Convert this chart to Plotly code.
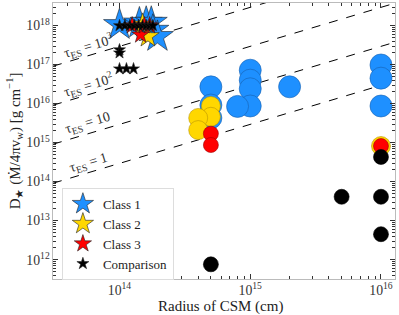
import numpy as np
import plotly.graph_objects as go

# ---------------- data ----------------
# Stars (class members at small radii)
c1_star_R = [1.0e14, 1.42e14, 1.6e14, 1.75e14, 1.8e14, 1.95e14]
c1_star_D = [1.05e18, 1.15e18, 1.2e18, 1.2e18, 7.5e17, 5.2e17]
c2_star_R = [1.5e14, 1.65e14]
c2_star_D = [1.05e18, 5.3e17]
c3_star_R = [1.25e14, 1.45e14, 1.55e14, 1.7e14]
c3_star_D = [1.0e18, 5.8e17, 1.0e18, 1.0e18]
cmp_star_R = [1.0e14, 1.1e14, 1.2e14, 1.3e14, 1.4e14, 1.5e14, 1.6e14, 1.7e14, 1.8e14,
              1.0e14, 1.0e14, 1.0e14, 1.13e14, 1.28e14]
cmp_star_D = [1.0e18, 1.0e18, 1.0e18, 1.0e18, 1.0e18, 1.0e18, 1.0e18, 1.0e18, 1.0e18,
              2.4e17, 2.0e17, 7.8e16, 7.8e16, 7.8e16]

# Circles
c1_circ_R = [5e14, 5e14, 5e14, 1e15, 1e15, 1e15, 1e15, 8e14, 2e15, 1e16, 1e16, 1e16]
c1_circ_D = [2.7e16, 9.2e15, 4.3e15, 7.2e16, 4.0e16, 2.4e16, 8.7e15, 8.5e15, 2.7e16,
             9.8e16, 4.5e16, 8.7e15]
c2_circ_R = [5e14, 5e14, 4e14, 4e14, 1e16]
c2_circ_D = [8.7e15, 4.6e15, 4.3e15, 2.1e15, 8.2e14]
c3_circ_R = [5e14, 5e14, 1e16]
c3_circ_D = [1.7e15, 8.7e14, 8.2e14]
cmp_circ_R = [1e16, 1e16, 5e15, 1e16, 5e14]
cmp_circ_D = [4.3e14, 4.1e13, 4.1e13, 4.5e12, 7.6e11]

# Optical depth reference lines  D = tau * R / kappa
tau_values = [1, 10, 100, 1000]
tau_labels = ["1", "10", "10<sup>2</sup>", "10<sup>3</sup>"]
kappa = 0.34
x_lim = [3.1e13, 1.28e16]
y_lim = [3.2e11, 3.8e18]

FONT = "Liberation Serif"
blue, yellow, red, black = "#1E90FF", "#FFD700", "#FF0000", "#000000"

fig = go.Figure()

# tau lines
R_line = np.array(x_lim)
for t in tau_values:
    fig.add_trace(go.Scatter(x=R_line, y=t * R_line / kappa, mode="lines",
                             line=dict(color="black", width=1, dash="dash"),
                             showlegend=False, hoverinfo="skip"))

def circles(R, D, color, size, edge):
    fig.add_trace(go.Scatter(x=R, y=D, mode="markers", showlegend=False,
                             marker=dict(symbol="circle", size=size, color=color,
                                         line=dict(color=edge, width=0.6))))

def stars(R, D, color, size, name):
    fig.add_trace(go.Scatter(x=R, y=D, mode="markers", name=name,
                             marker=dict(symbol="star", size=size, color=color,
                                         line=dict(color="#222", width=0.6))))

circles(c1_circ_R, c1_circ_D, blue, 22, "#1660b0")
circles(c2_circ_R, c2_circ_D, yellow, 19, "#b89400")
circles(c3_circ_R, c3_circ_D, red, 15, "#a00000")
circles(cmp_circ_R, cmp_circ_D, black, 15, "#000")

stars(c1_star_R, c1_star_D, blue, 24, "Class 1")
stars(c2_star_R, c2_star_D, yellow, 17, "Class 2")
stars(c3_star_R, c3_star_D, red, 13, "Class 3")
stars(cmp_star_R, cmp_star_D, black, 9, "Comparison")

# tau labels
ang = -16.6
lab_logR = 13.76
for t, lab in zip(tau_values, tau_labels):
    yv = np.log10(t * 10 ** lab_logR / kappa) + 0.25
    fig.add_annotation(x=lab_logR, y=yv, xref="x", yref="y",
                       text="τ<sub>ES</sub> = " + lab, showarrow=False,
                       textangle=ang, font=dict(family=FONT, size=14, color="#333"))

# axis titles
fig.add_annotation(x=-0.113, y=0.5, xref="paper", yref="paper", textangle=-90,
                   xanchor="center", yanchor="middle",
                   text="D<sub>★</sub> (Ṁ/4πv<sub>w</sub>) [g cm<sup>−1</sup>]",
                   showarrow=False, font=dict(family=FONT, size=15, color="#222"))
fig.add_annotation(x=0.49, y=-0.1, xref="paper", yref="paper",
                   xanchor="center", yanchor="middle",
                   text="Radius of CSM (cm)", showarrow=False,
                   font=dict(family=FONT, size=15, color="#222"))

axis_common = dict(type="log", dtick=1, exponentformat="power", showgrid=False,
                   zeroline=False, ticks="inside", ticklen=5, tickwidth=0.8,
                   tickcolor="#333", showline=True, linecolor="#bbbbbb", linewidth=1.2,
                   mirror="ticks", automargin=False,
                   tickfont=dict(family=FONT, size=11, color="#333"),
                   minor=dict(ticks="inside", ticklen=2.5, tickwidth=0.6,
                              tickcolor="#333", showgrid=False))

fig.update_xaxes(range=[np.log10(x_lim[0]), np.log10(x_lim[1])],
                 ticklabelstandoff=-1, **axis_common)
fig.update_yaxes(range=[np.log10(y_lim[0]), np.log10(y_lim[1])], **axis_common)

fig.update_layout(
    width=399, height=315,
    margin=dict(l=53, r=4, t=3, b=36),
    plot_bgcolor="white", paper_bgcolor="white",
    font=dict(family=FONT, color="#222"),
    legend=dict(x=0.026, y=0.33, xanchor="left", yanchor="top",
                bgcolor="white", bordercolor="#dddddd", borderwidth=1,
                font=dict(family=FONT, size=13, color="#222"),
                itemsizing="trace", tracegroupgap=0),
)

fig.write_html("out.html", config={"displayModeBar": False},
               post_script="document.body.style.margin='0';document.body.style.overflow='hidden';")
